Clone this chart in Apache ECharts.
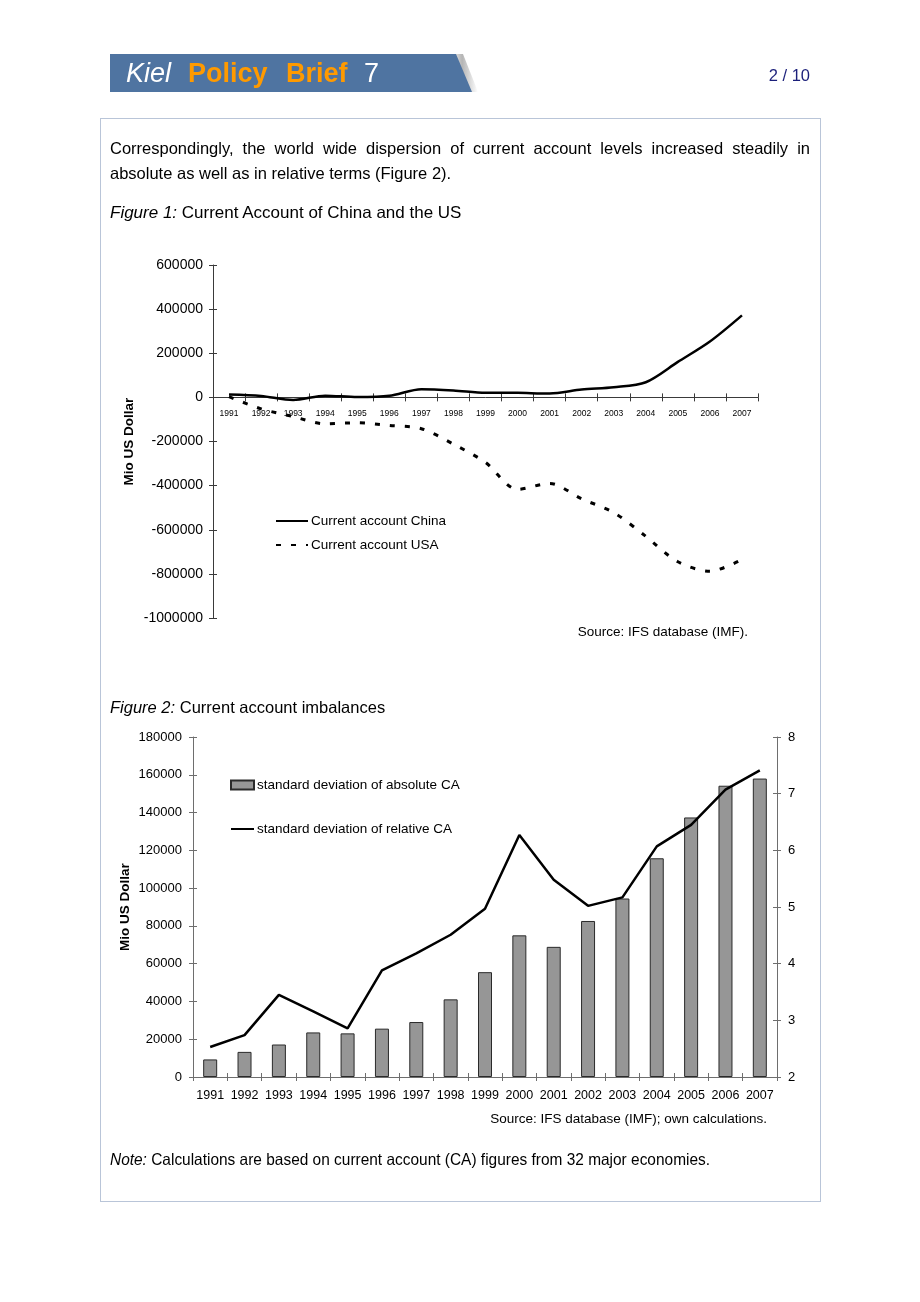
<!DOCTYPE html>
<html>
<head>
<meta charset="utf-8">
<script src="https://cdn.jsdelivr.net/npm/echarts@6/dist/echarts.min.js"></script>
<style>
  html, body { margin:0; padding:0; background:#fff; }
  body { width:920px; height:1302px; position:relative; overflow:hidden; font-family:"Liberation Sans", Arial, sans-serif; color:#000; }
  .abs { position:absolute; white-space:nowrap; }
  #chart { position:absolute; left:0; top:0; width:920px; height:1302px; }
</style>
</head>
<body>
<div id="chart"></div>
<div class="abs" style="left:100px;top:118px;width:719px;height:1082px;border:1px solid #b9c5d8;pointer-events:none;"></div>
<!-- header banner -->
<div class="abs" style="left:110px;top:54px;width:368px;height:38px;background:linear-gradient(90deg, rgba(0,0,0,0) 0px, rgba(0,0,0,0) 340px, rgba(120,120,120,0.55) 352px, rgba(255,255,255,0) 368px);clip-path:polygon(0 0, 353px 0, 368px 38px, 0 38px);"></div>
<div class="abs" style="left:110px;top:54px;width:362px;height:38px;background:#4f74a1;clip-path:polygon(0 0, 346px 0, 362px 38px, 0 38px);"></div>
<div class="abs" style="left:126px;top:54px;line-height:38px;font-size:27px;font-style:italic;color:#fff;">Kiel</div>
<div class="abs" style="left:188px;top:54px;line-height:38px;font-size:27px;font-weight:bold;color:#ff9a00;">Policy</div>
<div class="abs" style="left:286px;top:54px;line-height:38px;font-size:27px;font-weight:bold;color:#ff9a00;">Brief</div>
<div class="abs" style="left:364px;top:54px;line-height:38px;font-size:27px;color:#fff;">7</div>
<div class="abs" style="right:110px;top:64px;line-height:22px;font-size:16.5px;color:#1b1f7a;">2 / 10</div>
<!-- body text -->
<div class="abs" style="left:110px;top:136px;width:700px;white-space:normal;font-size:16.5px;line-height:25px;text-align:justify;text-align-last:left;">Correspondingly, the world wide dispersion of current account levels increased steadily in absolute as well as in relative terms (Figure 2).</div>
<div class="abs" style="left:110px;top:200px;line-height:24px;font-size:16.5px;transform:scaleX(1.03);transform-origin:0 0;"><i>Figure 1:</i> Current Account of China and the US</div>
<div class="abs" style="right:172px;top:623px;line-height:18px;font-size:13.5px;">Source: IFS database (IMF).</div>
<div class="abs" style="left:110px;top:695px;line-height:24px;font-size:16.5px;"><i>Figure 2:</i> Current account imbalances</div>
<div class="abs" style="right:153px;top:1110px;line-height:18px;font-size:13.5px;">Source: IFS database (IMF); own calculations.</div>
<div class="abs" style="left:110px;top:1147px;line-height:24px;font-size:16.5px;transform:scaleX(0.936);transform-origin:0 0;"><i>Note:</i> Calculations are based on current account (CA) figures from 32 major economies.</div>

<script>
// ---------- data ----------
const years = ['1991','1992','1993','1994','1995','1996','1997','1998','1999','2000','2001','2002','2003','2004','2005','2006','2007'];
// Figure 1: current account, Mio US Dollar
const chinaCA = [13300, 6400, -11900, 7700, 1600, 7200, 37000, 31500, 21100, 20500, 17400, 35400, 45900, 68700, 160800, 253300, 371800];
const usaCA = [3000, -52000, -87000, -120000, -115000, -127000, -142000, -212000, -295000, -417000, -390000, -460000, -522000, -630000, -745000, -788000, -735000];
// Figure 2: current account imbalances
const absCA = [9300, 13300, 17200, 23600, 23100, 25600, 29100, 41100, 55500, 75000, 68900, 82600, 94500, 115800, 137400, 154200, 158000];
const relCA = [2.53, 2.74, 3.45, 3.16, 2.86, 3.88, 4.18, 4.51, 4.97, 6.27, 5.48, 5.02, 5.17, 6.07, 6.45, 7.07, 7.41];
// axis ranges / tick steps
const fig1Y = { min: -1000000, max: 600000, interval: 200000 };
const fig2YLeft = { min: 0, max: 180000, interval: 20000 };
const fig2YRight = { min: 2, max: 8, interval: 1 };

const FONT = '"Liberation Sans", Arial, sans-serif';
const chart = echarts.init(document.getElementById('chart'), null, { renderer: 'canvas' });

const ax1 = '#3a3a3a';
const ax2 = '#6e6e6e';

const grid1 = { left: 213, top: 265, width: 545, height: 353 };
const grid2 = { left: 193, top: 737, width: 584, height: 340 };
// x axis of figure 1 crosses the value axis at 0
const zeroOffset1 = -grid1.height * (0 - fig1Y.min) / (fig1Y.max - fig1Y.min);

function catAxis(grid, color, main, fontSize, margin, offset) {
  return {
    type: 'category', gridIndex: grid, data: years, boundaryGap: true,
    position: 'bottom', offset: offset,
    axisLine: { show: main, onZero: false, lineStyle: { color: color, width: 1 } },
    axisTick: { show: true, inside: !main, length: 4, lineStyle: { color: color } },
    axisLabel: { show: main, fontSize: fontSize, fontFamily: FONT, color: '#000', margin: margin, interval: 0 },
    splitLine: { show: false }
  };
}
function valAxis(grid, cfg, color, main, pos, margin, fontSize) {
  return {
    type: 'value', gridIndex: grid, position: pos, min: cfg.min, max: cfg.max, interval: cfg.interval,
    axisLine: { show: main, onZero: false, lineStyle: { color: color, width: 1 } },
    axisTick: { show: true, inside: !main, length: 4, lineStyle: { color: color } },
    axisLabel: { show: main, fontSize: fontSize, fontFamily: FONT, color: '#000', margin: margin,
                 formatter: function (v) { return String(v); } },
    splitLine: { show: false }
  };
}
function named(a, name, nameGap) {
  a.name = name; a.nameLocation = 'middle'; a.nameGap = nameGap; a.nameRotate = 90;
  a.nameMoveOverlap = false;
  a.nameTextStyle = { fontSize: 13.5, fontWeight: 'bold', fontFamily: FONT, color: '#000' };
  return a;
}

const option = {
  animation: false,
  backgroundColor: 'transparent',
  textStyle: { fontFamily: FONT },
  grid: [
    Object.assign({ containLabel: false }, grid1),
    Object.assign({ containLabel: false }, grid2)
  ],
  xAxis: [
    catAxis(0, ax1, true, 8.5, 12, zeroOffset1),
    catAxis(0, ax1, false, 8.5, 12, zeroOffset1),
    catAxis(1, ax2, true, 12.5, 12, 0),
    catAxis(1, ax2, false, 12.5, 12, 0)
  ],
  yAxis: [
    named(valAxis(0, fig1Y, ax1, true, 'left', 10, 14), 'Mio US Dollar', 77),
    valAxis(0, fig1Y, ax1, false, 'left', 10, 14),
    named(valAxis(1, fig2YLeft, ax2, true, 'left', 11, 13), 'Mio US Dollar', 61),
    valAxis(1, fig2YLeft, ax2, false, 'left', 11, 13),
    valAxis(1, fig2YRight, ax2, true, 'right', 11, 13),
    valAxis(1, fig2YRight, ax2, false, 'right', 11, 13)
  ],
  legend: [
    {
      data: ['Current account China', 'Current account USA'],
      orient: 'vertical', left: 275, top: 514, padding: 0,
      itemWidth: 32, itemHeight: 10, itemGap: 10,
      itemStyle: { opacity: 0 },
      textStyle: { fontSize: 13.5, fontFamily: FONT, color: '#000', padding: [0, 0, 0, -2] }
    },
    {
      data: [
        { name: 'standard deviation of absolute CA', icon: 'rect' },
        { name: 'standard deviation of relative CA', itemStyle: { opacity: 0 } }
      ],
      orient: 'vertical', left: 230, top: 778, padding: 0,
      itemWidth: 23, itemHeight: 9, itemGap: 30,
      textStyle: { fontSize: 13.5, fontFamily: FONT, color: '#000', padding: [0, 0, 0, -2] }
    }
  ],
  series: [
    {
      name: 'Current account China', type: 'line', xAxisIndex: 0, yAxisIndex: 0,
      data: chinaCA, smooth: 0.3, symbol: 'none', showSymbol: false,
      lineStyle: { color: '#000', width: 2.5, type: 'solid' },
      itemStyle: { color: '#000' }
    },
    {
      name: 'Current account USA', type: 'line', xAxisIndex: 0, yAxisIndex: 0,
      data: usaCA, smooth: 0.3, symbol: 'none', showSymbol: false,
      lineStyle: { color: '#000', width: 3, type: [5, 10] },
      itemStyle: { color: '#000' }
    },
    {
      name: 'standard deviation of absolute CA', type: 'bar', xAxisIndex: 2, yAxisIndex: 2,
      data: absCA, barWidth: 14,
      itemStyle: { color: '#969696', borderColor: '#2a2a2a', borderWidth: 1 }
    },
    {
      name: 'standard deviation of relative CA', type: 'line', xAxisIndex: 2, yAxisIndex: 4,
      data: relCA, symbol: 'none', showSymbol: false,
      lineStyle: { color: '#000', width: 2.5 },
      itemStyle: { color: '#000' }
    }
  ]
};
chart.setOption(option);
</script>
</body>
</html>
